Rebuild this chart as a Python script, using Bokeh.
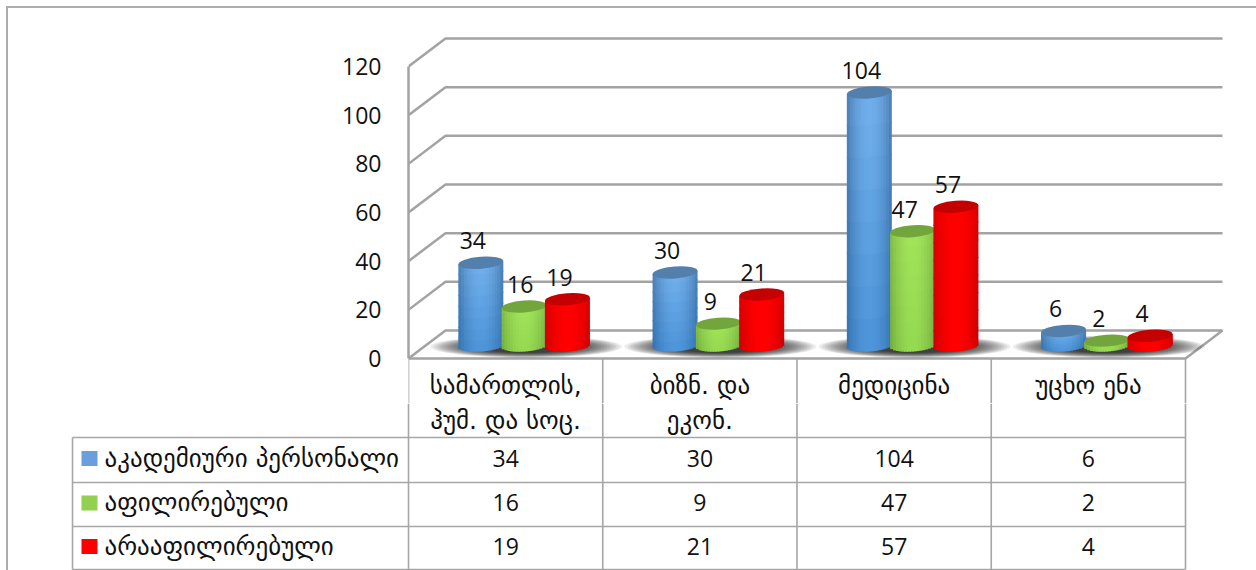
import math
from bokeh.plotting import figure
from bokeh.layouts import column
from bokeh.models import Range1d, FixedTicker, ColumnDataSource
from bokeh.core.properties import value
from bokeh.embed import file_html
from bokeh.resources import INLINE

categories = ["სამართლის,\nჰუმ. და სოც.", "ბიზნ. და\nეკონ.", "მედიცინა", "უცხო ენა"]
series_names = ["აკადემიური პერსონალი", "აფილირებული", "არააფილირებული"]
academic = [34, 30, 104, 6]
affiliated = [16, 9, 47, 2]
unaffiliated = [19, 21, 57, 4]
y_ticks = [0, 20, 40, 60, 80, 100, 120]

series = [academic, affiliated, unaffiliated]

W, H1, H2 = 1256, 403, 167
AX_L, AX_Z = 408, 358        # image px of axis foot
CAT_PX = 194.25
PX_Y = 2.433
DEPTH_X, DEPTH_Y = 37, 28
NUM_FONT = value("Open Sans")
GEO_FONT = value("DejaVu Sans")
GEO_SIZE = "25px"
GRID = "#a3a3a3"
TBL = "#a6a6a6"
BORDER = "#adadad"

x_start = 0.0
x_end = (W - AX_L) / CAT_PX
y_start = (AX_Z - H1) / PX_Y
y_end = AX_Z / PX_Y

p = figure(width=W, height=H1, output_backend="svg", toolbar_location=None,
           x_range=Range1d(x_start, x_end), y_range=Range1d(y_start, y_end),
           x_axis_location=None, min_border_left=AX_L, min_border_right=0,
           min_border_top=0, min_border_bottom=0,
           background_fill_color=None, border_fill_color=None)
p.frame_align = False
p.outline_line_color = None
p.grid.visible = False
ya = p.yaxis[0]
ya.ticker = FixedTicker(ticks=y_ticks)
ya.bounds = (0, 120)
ya.major_tick_line_color = None
ya.minor_tick_line_color = None
ya.axis_line_color = GRID
ya.axis_line_width = 2.5
ya.major_label_standoff = 21
ya.major_label_text_font = "Open Sans"
ya.major_label_text_font_size = "23px"
ya.major_label_text_color = "#111111"

dx_u = DEPTH_X / CAT_PX
dy_u = DEPTH_Y / PX_Y
right_u = (1185 - AX_L) / CAT_PX

# walls
for v in y_ticks:
    p.line([0, dx_u, right_u + dx_u], [v, v + dy_u, v + dy_u], line_color=GRID, line_width=2.5)
# floor
p.line([0, right_u, right_u + dx_u], [0, 0, dy_u], line_color=GRID, line_width=2.5)

# upper part of the table's column lines
for i in range(len(categories) + 1):
    p.line([i, i], [0, y_start], line_color=TBL, line_width=1.6)

LIFT = 13 / PX_Y
BAR_STEP = 43.3 / CAT_PX
BAR_W = 45 / CAT_PX
GROUP_OFF = 18.5 / CAT_PX
ELL_H = 12
TILT = 0.075                  # px rise per px

# (edge-top, mid-top, edge-bottom, mid-bottom, cap)
PAL = [
    ((0x4a, 0x7c, 0xb0), (0x72, 0xb0, 0xec), (0x33, 0x70, 0xae), (0x4c, 0x94, 0xd8), "#527fab"),
    ((0x7f, 0xb8, 0x45), (0xa2, 0xe4, 0x5a), (0x70, 0xaa, 0x3c), (0x95, 0xd9, 0x52), "#72a63c"),
    ((0xd8, 0x00, 0x00), (0xff, 0x00, 0x00), (0xc8, 0x00, 0x00), (0xff, 0x00, 0x00), "#c40000"),
]


def hexc(c):
    return "#%02x%02x%02x" % tuple(int(max(0, min(255, round(t)))) for t in c)


def mix(a, b, t):
    return tuple(a[i] + (b[i] - a[i]) * t for i in range(3))


def center(cat, s):
    return cat + 0.5 + GROUP_OFF + (s - 1) * BAR_STEP


# shadows
for cat in range(len(categories)):
    xc = [center(cat, 1) + 2 / CAT_PX]
    for k in range(18):
        p.ellipse(x=xc, y=[LIFT - 0.5], width=192 - 6 * k, height=22 - 0.6 * k,
                  width_units="screen", height_units="screen",
                  fill_color="#000000", fill_alpha=0.07, line_color=None)


def draw_bar(cat, s, v):
    NC, NR = 16, 8
    xc = center(cat, s)
    edge_t, mid_t, edge_b, mid_b, cap = PAL[s]
    data = dict(left=[], right=[], top=[], bottom=[], c=[])
    half_h = ELL_H / 2 / PX_Y
    for i in range(NC):
        u0 = -1 + 2 * i / NC
        u1 = -1 + 2 * (i + 1) / NC
        um = (u0 + u1) / 2
        shade = math.cos(um * math.pi / 2) ** 0.8
        tilt_y = um * (BAR_W * CAT_PX / 2) * TILT / PX_Y
        bot = LIFT - half_h * math.sqrt(max(0, 1 - um * um)) + tilt_y
        top = LIFT + v + tilt_y
        for r in range(NR):
            t0, t1 = r / NR, (r + 1) / NR
            tm = (t0 + t1) / 2
            col = mix(mix(edge_b, edge_t, tm), mix(mid_b, mid_t, tm), shade)
            data["left"].append(xc + u0 * BAR_W / 2)
            data["right"].append(xc + u1 * BAR_W / 2 + (1.2 / CAT_PX if i < NC - 1 else 0))
            data["bottom"].append(bot + (top - bot) * t0)
            data["top"].append(bot + (top - bot) * t1 + (1.2 / PX_Y if r < NR - 1 else 0))
            data["c"].append(hexc(col))
    src = ColumnDataSource(data)
    p.quad(left="left", right="right", top="top", bottom="bottom", source=src,
           fill_color="c", line_color=None)
    p.ellipse(x=[xc], y=[LIFT + v], width=45, height=ELL_H, width_units="screen", height_units="screen",
              angle=math.atan(TILT), fill_color=cap, line_color=None)


for cat in range(len(categories)):
    for s in range(3):
        draw_bar(cat, s, series[s][cat])

# data labels
nudge = {(0, 1): 4}
for s in range(3):
    for cat in range(len(categories)):
        v = series[s][cat]
        p.text(x=[center(cat, s)], y=[LIFT + v], text=[str(v)], text_font=NUM_FONT, text_font_size="23px",
               text_color="#111111", text_align="center", text_baseline="middle",
               x_offset=-8 + nudge.get((cat, s), 0), y_offset=-22)

# first header lines sit in the chart figure, so nothing cuts them
for i, name in enumerate(categories):
    first = name.split("\n")[0]
    p.text(x=[i + 0.5], y=[(AX_Z - 385) / PX_Y], text=[first], text_font=GEO_FONT, text_font_size=GEO_SIZE,
           text_color="#111111", text_align="center", text_baseline="middle")

# ---------- table ----------
t = figure(width=W, height=H2, output_backend="svg", toolbar_location=None,
           x_range=Range1d(0, W), y_range=Range1d(H1 + H2, H1),
           x_axis_location=None, y_axis_location=None,
           min_border_left=0, min_border_right=0, min_border_top=0, min_border_bottom=0,
           background_fill_color=None, border_fill_color=None)
t.frame_align = False
t.outline_line_color = None
t.grid.visible = False

cols = [AX_L + CAT_PX * i for i in range(len(categories) + 1)]
rows = [437, 482, 526, 569]
T_L = 72
for y_ in rows:
    t.line([T_L, cols[-1]], [y_, y_], line_color=TBL, line_width=1.6)
t.line([T_L, T_L], [rows[0], rows[-1]], line_color=TBL, line_width=1.6)
for c_ in cols:
    t.line([c_, c_], [H1, rows[-1]], line_color=TBL, line_width=1.6)

for i, name in enumerate(categories):
    for ln in name.split("\n")[1:]:
        t.text(x=[(cols[i] + cols[i + 1]) / 2], y=[420], text=[ln], text_font=GEO_FONT, text_font_size=GEO_SIZE,
               text_color="#111111", text_align="center", text_baseline="middle")

sw_cols = ["#6a9fdc", "#92d050", "#ff0000"]
row_centers = [(rows[i] + rows[i + 1]) / 2 for i in range(3)]
for s, name in enumerate(series_names):
    yc = row_centers[s]
    t.quad(left=[81], right=[97], top=[yc - 9], bottom=[yc + 6], fill_color=sw_cols[s], line_color=None)
    t.text(x=[104], y=[yc - 2], text=[name], text_font=GEO_FONT, text_font_size=GEO_SIZE, text_color="#111111",
           text_align="left", text_baseline="middle")
    for i in range(len(categories)):
        t.text(x=[(cols[i] + cols[i + 1]) / 2], y=[yc - 2], text=[str(series[s][i])], text_font=NUM_FONT,
               text_font_size="23px", text_color="#111111", text_align="center", text_baseline="middle")

layout = column(p, t, spacing=0, styles={
    "background": "linear-gradient(#adadad,#adadad) 6px 6px / 2px 100% no-repeat, "
                  "linear-gradient(#adadad,#adadad) 6px 6px / 100% 2px no-repeat",
})
open("out.html", "w").write(file_html(layout, INLINE))
